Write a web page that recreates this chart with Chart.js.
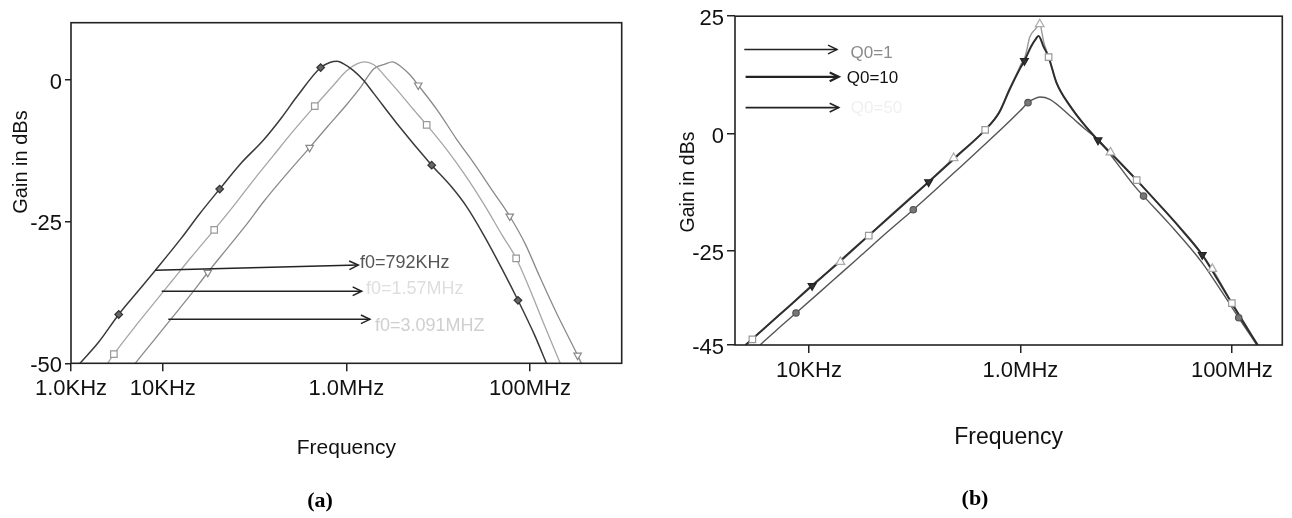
<!DOCTYPE html>
<html><head><meta charset="utf-8">
<script src="https://cdn.jsdelivr.net/npm/chart.js@4.4.1/dist/chart.umd.min.js"></script>
<style>
html,body{margin:0;padding:0;background:#fff;}
body{width:1292px;height:518px;position:relative;overflow:hidden;font-family:"Liberation Sans",Arial,sans-serif;}
.wrap{position:absolute;top:0;}
#wa{left:0;width:640px;height:518px;}
#wb{left:660px;width:632px;height:518px;}
.cap{position:absolute;font-family:"Liberation Serif","Times New Roman",serif;font-weight:bold;font-size:22px;color:#000;transform:translate(-50%,-50%);white-space:nowrap;}
</style></head>
<body>
<div class="wrap" id="wa"><canvas id="ca" width="640" height="518"></canvas></div>
<div class="wrap" id="wb"><canvas id="cb" width="632" height="518"></canvas></div>
<div class="cap" style="left:320px;top:500px">(a)</div>
<div class="cap" style="left:975px;top:498px">(b)</div>
<script>
// ---------- Chart (a) data ----------
const xTickValsA = [1e3, 1e4, 1e6, 1e8];
const xTickLabelsA = ['1.0KHz', '10KHz', '1.0MHz', '100MHz'];
const yTickValsA = [-50, -25, 0];
const yTickLabelsA = ['-50', '-25', '0'];
const seriesNamesA = ['f0=792KHz', 'f0=1.57MHz', 'f0=3.091MHZ'];

const freqA1 = [1253, 1995, 3311, 5248, 8318, 15849, 25119, 41687, 70795, 124451, 199526, 287078, 524807, 660693, 794328, 924698, 1188502, 1527566, 1995262, 3531832, 8511380, 14125375, 20417379, 31622777, 50118723, 74131024, 112201845, 151356125];
const gainA1 = [-50, -46.3, -41.4, -37.5, -33.6, -28, -23.7, -19.3, -14.8, -10.7, -6.6, -3.1, 2.1, 3.0, 3.2, 2.8, 1.6, -0.1, -2.5, -7.7, -15.1, -19, -22.4, -27.5, -33.5, -38.9, -45, -50];

const freqA2 = [2512, 2931, 5012, 7943, 12589, 19953, 36308, 63096, 100000, 158489, 251189, 452898, 707946, 1000000, 1318257, 1584893, 1995262, 2322737, 2630268, 3548134, 5011872, 7498942, 12589254, 19952623, 31622777, 50118723, 70794578, 100000000, 141253754, 213796209];
const gainA2 = [-50, -48.4, -43.5, -39.5, -35.5, -31.5, -26.5, -21.7, -17.5, -13.5, -9.5, -4.7, -1.2, 1.5, 2.8, 3.1, 2.6, 1.6, 0.6, -1.8, -4.7, -8.0, -12.5, -17, -22, -27.5, -31.5, -37, -43, -50];

const freqA3 = [5012, 7943, 12589, 19953, 30903, 50119, 79433, 125893, 199526, 398107, 630957, 1000000, 1412538, 1995262, 2630268, 3162278, 3981072, 5011872, 6065425, 10000000, 15848932, 25118864, 39810717, 60255959, 89125094, 125892541, 199526231, 331131121, 363078055];
const gainA3 = [-50, -46, -42, -38, -34, -29.8, -25.8, -21.5, -17.6, -12, -8.2, -4.5, -1.5, 1.9, 2.7, 3.1, 2.2, 0.7, -1.0, -5.6, -10.5, -15, -19.8, -24.1, -29, -34.5, -41.5, -48.6, -50];

const markFreqA1 = [3311, 41687, 524807, 8511380, 74131024];
const markGainA1 = [-41.4, -19.3, 2.1, -15.1, -38.9];
const markFreqA2 = [2931, 36308, 452898, 7498942, 70794578];
const markGainA2 = [-48.4, -26.5, -4.7, -8.0, -31.5];
const markFreqA3 = [30903, 398107, 6065425, 60255959, 331131121];
const markGainA3 = [-34.0, -12.0, -1.0, -24.1, -48.6];

// ---------- Chart (b) data ----------
const xTickValsB = [1e4, 1e6, 1e8];
const xTickLabelsB = ['10KHz', '1.0MHz', '100MHz'];
const yTickValsB = [-45, -25, 0, 25];
const yTickLabelsB = ['-45', '-25', '0', '25'];
const seriesNamesB = ['Q0=1', 'Q0=10', 'Q0=50'];

const freqBLow = [3451, 5012, 7551, 12589, 19953, 31623, 56234, 97051, 158489, 264850, 446684, 707946, 1000000, 1180321, 1348963, 1524053, 1896716, 2944461, 3981072, 5675446, 7943282, 11641375, 14621772, 25118864, 52480746, 79432823, 116144861, 172186857];
const gainBLow = [-45, -41.7, -38.2, -33.8, -29.8, -25.8, -20.8, -16.2, -11.9, -7.3, -2.6, 1.6, 4.9, 6.6, 7.4, 7.8, 7.3, 3.8, 1.2, -1.75, -5.9, -10.8, -13.3, -19, -27.5, -33.5, -39.2, -45];

const freqBMid = [2518, 3981, 6310, 10715, 19953, 36813, 70795, 135519, 251189, 464515, 630957, 790679, 1000000, 1091440, 1258925, 1412538, 1485936, 1659587, 1849269, 2197860, 2944461, 3981072, 5420009, 7943282, 12589254, 19952623, 31622777, 52480746, 70794578, 100000000, 131825674, 175388050];
const gainBMid = [-45, -41, -37, -32.4, -27, -21.7, -16, -10.3, -4.8, 0.8, 4.5, 9.4, 14, 15.5, 18.5, 20.3, 20.8, 18.5, 16.3, 10.8, 5.9, 2.0, -1.4, -5.2, -9.9, -14.8, -19.8, -25.8, -30.5, -36.1, -40.5, -45];

const freqBHigh = [2518, 3981, 6310, 10715, 19861, 36813, 70795, 135519, 233884, 464515, 630957, 790679, 1000000, 1122018, 1224616, 1380384, 1524053, 1659587, 1849269, 2197860, 2944461, 3981072, 5420009, 7112135, 12589254, 19952623, 31622777, 65313055, 100000000, 131825674, 177827941];
const gainBHigh = [-45, -41, -37, -32.2, -27.3, -21.7, -15.8, -10.2, -5.2, 0.8, 4.7, 9.6, 14.5, 16.8, 20.5, 22.2, 23.3, 19.6, 16.3, 10.9, 6.0, 2.0, -1.3, -4.0, -9.9, -14.8, -19.9, -28.8, -36.1, -40.8, -45];

const markFreqBLow = [7551, 97051, 1180321, 14621772, 116144861];
const markGainBLow = [-38.2, -16.2, 6.6, -13.3, -39.2];
const markFreqBMid = [10715, 135519, 1091440, 5420009, 52480746];
const markGainBMid = [-32.4, -10.3, 15.5, -1.4, -25.8];
const markFreqBHighSq = [2920, 36813, 464515, 1849269, 12589254, 100000000];
const markGainBHighSq = [-43.8, -21.7, 0.8, 16.3, -9.9, -36.1];
const markFreqBHighTri = [19861, 233884, 1524053, 7112135, 65313055];
const markGainBHighTri = [-27.3, -5.2, 23.3, -4.0, -28.8];

// ---------- helpers ----------
const pts = (fs, gs) => fs.map((f, i) => ({x: f, y: gs[i]}));
const FONT = "'Liberation Sans', Arial, sans-serif";
Chart.defaults.font.family = FONT;
Chart.defaults.color = '#111';

const framePlugin = {
  id: 'frameAnnot',
  afterDatasetsDraw(chart, args, opts) {
    const {ctx} = chart;
    const xs = chart.scales.x, ys = chart.scales.y;
    const a = chart.chartArea;
    ctx.save();
    ctx.strokeStyle = '#222';
    ctx.lineWidth = 1.6;
    ctx.strokeRect(a.left, a.top, a.right - a.left, a.bottom - a.top);
    (opts.arrows || []).forEach(ar => {
      const X1 = xs.getPixelForValue(ar.x1), X2 = xs.getPixelForValue(ar.x2);
      const Y1 = ys.getPixelForValue(ar.y1), Y2 = ys.getPixelForValue(ar.y2);
      ctx.strokeStyle = ar.color;
      ctx.lineWidth = ar.width;
      ctx.beginPath(); ctx.moveTo(X1, Y1); ctx.lineTo(X2, Y2); ctx.stroke();
      const ang = Math.atan2(Y2 - Y1, X2 - X1), h = 10;
      ctx.beginPath();
      ctx.moveTo(X2 - h * Math.cos(ang - 0.45), Y2 - h * Math.sin(ang - 0.45));
      ctx.lineTo(X2, Y2);
      ctx.lineTo(X2 - h * Math.cos(ang + 0.45), Y2 - h * Math.sin(ang + 0.45));
      ctx.stroke();
      ctx.fillStyle = ar.textColor;
      ctx.font = ar.font;
      ctx.textBaseline = 'middle';
      ctx.textAlign = 'left';
      ctx.fillText(ar.text, xs.getPixelForValue(ar.tx), ys.getPixelForValue(ar.ty));
    });
    // vertical axis title
    if (opts.yTitle) {
      const t = opts.yTitle;
      ctx.translate(t.x, t.y);
      ctx.rotate(-Math.PI / 2);
      ctx.fillStyle = '#111';
      ctx.font = t.font;
      ctx.textAlign = 'center';
      ctx.textBaseline = 'middle';
      ctx.fillText(t.text, 0, 0);
    }
    ctx.restore();
  }
};

function lineDs(label, data, color, width, order) {
  return {label, data, borderColor: color, borderWidth: width, pointRadius: 0,
    cubicInterpolationMode: 'monotone', fill: false, order};
}
function markDs(label, data, style, radius, fill, stroke, rotation, order) {
  return {label, data, showLine: false, pointStyle: style, pointRadius: radius,
    pointBackgroundColor: fill, pointBorderColor: stroke, pointBorderWidth: 1.2,
    pointRotation: rotation, order};
}

function makeOptions(cfg) {
  return {
    responsive: false,
    animation: false,
    events: [],
    layout: {padding: cfg.padding},
    plugins: {legend: {display: false}, tooltip: {enabled: false},
      frameAnnot: {arrows: cfg.arrows, yTitle: cfg.yTitle}},
    scales: {
      x: {
        type: 'logarithmic', min: cfg.xMin, max: cfg.xMax,
        border: {display: false},
        grid: {display: true, drawOnChartArea: false, drawTicks: true, tickLength: 8, color: '#222', lineWidth: 1.5},
        ticks: {autoSkip: false, maxRotation: 0, minRotation: 0, padding: cfg.xTickPad, color: '#111',
          font: {size: 22, family: FONT},
          callback: v => { const i = cfg.xVals.indexOf(v); return i >= 0 ? cfg.xLabels[i] : ''; }},
        afterBuildTicks: s => { s.ticks = cfg.xVals.map(v => ({value: v})); },
        afterFit: s => { s.height = cfg.xHeight; },
        title: {display: true, text: 'Frequency', color: '#111', font: {size: cfg.xTitleSize, family: FONT},
          padding: {top: 0, bottom: cfg.xTitlePad}}
      },
      y: {
        type: 'linear', min: cfg.yMin, max: cfg.yMax,
        border: {display: false},
        grid: {display: true, drawOnChartArea: false, drawTicks: true, tickLength: cfg.yTickLen, color: '#222', lineWidth: 1.5},
        ticks: {autoSkip: false, padding: 3, labelOffset: 3, color: '#111', font: {size: 22, family: FONT},
          callback: v => { const i = cfg.yVals.indexOf(v); return i >= 0 ? cfg.yLabels[i] : ''; }},
        afterBuildTicks: s => { s.ticks = cfg.yVals.map(v => ({value: v})); },
        afterFit: s => { s.width = cfg.yWidth; },
        title: {display: false}
      }
    }
  };
}

// ---------- Chart (a) ----------
new Chart(document.getElementById('ca'), {
  type: 'line',
  data: {datasets: [
    markDs(seriesNamesA[0] + ' markers', pts(markFreqA1, markGainA1), 'rectRot', 3.8, '#666', '#333', 0, 0),
    markDs(seriesNamesA[1] + ' markers', pts(markFreqA2, markGainA2), 'rect', 4.6, '#fff', '#999', 0, 0),
    markDs(seriesNamesA[2] + ' markers', pts(markFreqA3, markGainA3), 'triangle', 4.3, '#fff', '#888', 180, 0),
    lineDs(seriesNamesA[0], pts(freqA1, gainA1), '#3a3a3a', 1.5, 1),
    lineDs(seriesNamesA[1], pts(freqA2, gainA2), '#a6a6a6', 1.3, 2),
    lineDs(seriesNamesA[2], pts(freqA3, gainA3), '#8a8a8a', 1.3, 3)
  ]},
  options: makeOptions({
    padding: {top: 22.7, right: 18.3, left: 0, bottom: 0},
    xMin: 1e3, xMax: 1e9, yMin: -50, yMax: 10,
    xVals: xTickValsA, xLabels: xTickLabelsA, yVals: yTickValsA, yLabels: yTickLabelsA,
    xHeight: 154.7, yWidth: 71, xTickPad: 4, yTickLen: 6,
    xTitleSize: 21, xTitlePad: 57,
    yTitle: {text: 'Gain in dBs', x: 21, y: 162, font: "20px " + FONT},
    arrows: [
      {x1: 8222, y1: -33.6, x2: 1349000, y2: -32.7, tx: 1406000, ty: -32.4, text: seriesNamesA[0], color: '#222', width: 1.5, textColor: '#555', font: "18px " + FONT},
      {x1: 9730, y1: -37.3, x2: 1469000, y2: -37.3, tx: 1633000, ty: -36.9, text: seriesNamesA[1], color: '#222', width: 1.5, textColor: '#dedede', font: "18px " + FONT},
      {x1: 11480, y1: -42.25, x2: 1807000, y2: -42.25, tx: 2050000, ty: -43.4, text: seriesNamesA[2], color: '#222', width: 1.5, textColor: '#cfcfcf', font: "18px " + FONT}
    ]
  }),
  plugins: [framePlugin]
});

// ---------- Chart (b) ----------
new Chart(document.getElementById('cb'), {
  type: 'line',
  data: {datasets: [
    markDs(seriesNamesB[0] + ' markers', pts(markFreqBLow, markGainBLow), 'circle', 3.2, '#777', '#555', 0, 0),
    markDs(seriesNamesB[1] + ' markers', pts(markFreqBMid, markGainBMid), 'triangle', 4.5, '#333', '#222', 180, 0),
    markDs(seriesNamesB[2] + ' squares', pts(markFreqBHighSq, markGainBHighSq), 'rect', 4.6, '#fff', '#999', 0, 0),
    markDs(seriesNamesB[2] + ' triangles', pts(markFreqBHighTri, markGainBHighTri), 'triangle', 5, '#fff', '#aaa', 0, 0),
    lineDs(seriesNamesB[1], pts(freqBMid, gainBMid), '#2e2e2e', 2, 1),
    lineDs(seriesNamesB[0], pts(freqBLow, gainBLow), '#555', 1.4, 2),
    lineDs(seriesNamesB[2], pts(freqBHigh, gainBHigh), '#9a9a9a', 1.4, 3)
  ]},
  options: makeOptions({
    padding: {top: 8.3, right: 9.7, left: 0, bottom: 0},
    xMin: 2000, xMax: 3e8, yMin: -45, yMax: 25,
    xVals: xTickValsB, xLabels: xTickLabelsB, yVals: yTickValsB, yLabels: yTickLabelsB,
    xHeight: 173, yWidth: 75, xTickPad: 5, yTickLen: 8,
    xTitleSize: 23, xTitlePad: 67,
    yTitle: {text: 'Gain in dBs', x: 29, y: 182, font: "19.5px " + FONT},
    arrows: [
      {x1: 2449, y1: 17.9, x2: 18450, y2: 17.9, tx: 24770, ty: 17.15, text: seriesNamesB[0], color: '#222', width: 1.4, textColor: '#8a8a8a', font: "17px " + FONT},
      {x1: 2518, y1: 12.1, x2: 19140, y2: 12.1, tx: 22800, ty: 11.8, text: seriesNamesB[1], color: '#222', width: 2.2, textColor: '#111', font: "17px " + FONT},
      {x1: 2518, y1: 5.54, x2: 19140, y2: 5.54, tx: 24900, ty: 5.48, text: seriesNamesB[2], color: '#222', width: 1.6, textColor: '#f0f0f0', font: "17px " + FONT}
    ]
  }),
  plugins: [framePlugin]
});
</script>
</body></html>
